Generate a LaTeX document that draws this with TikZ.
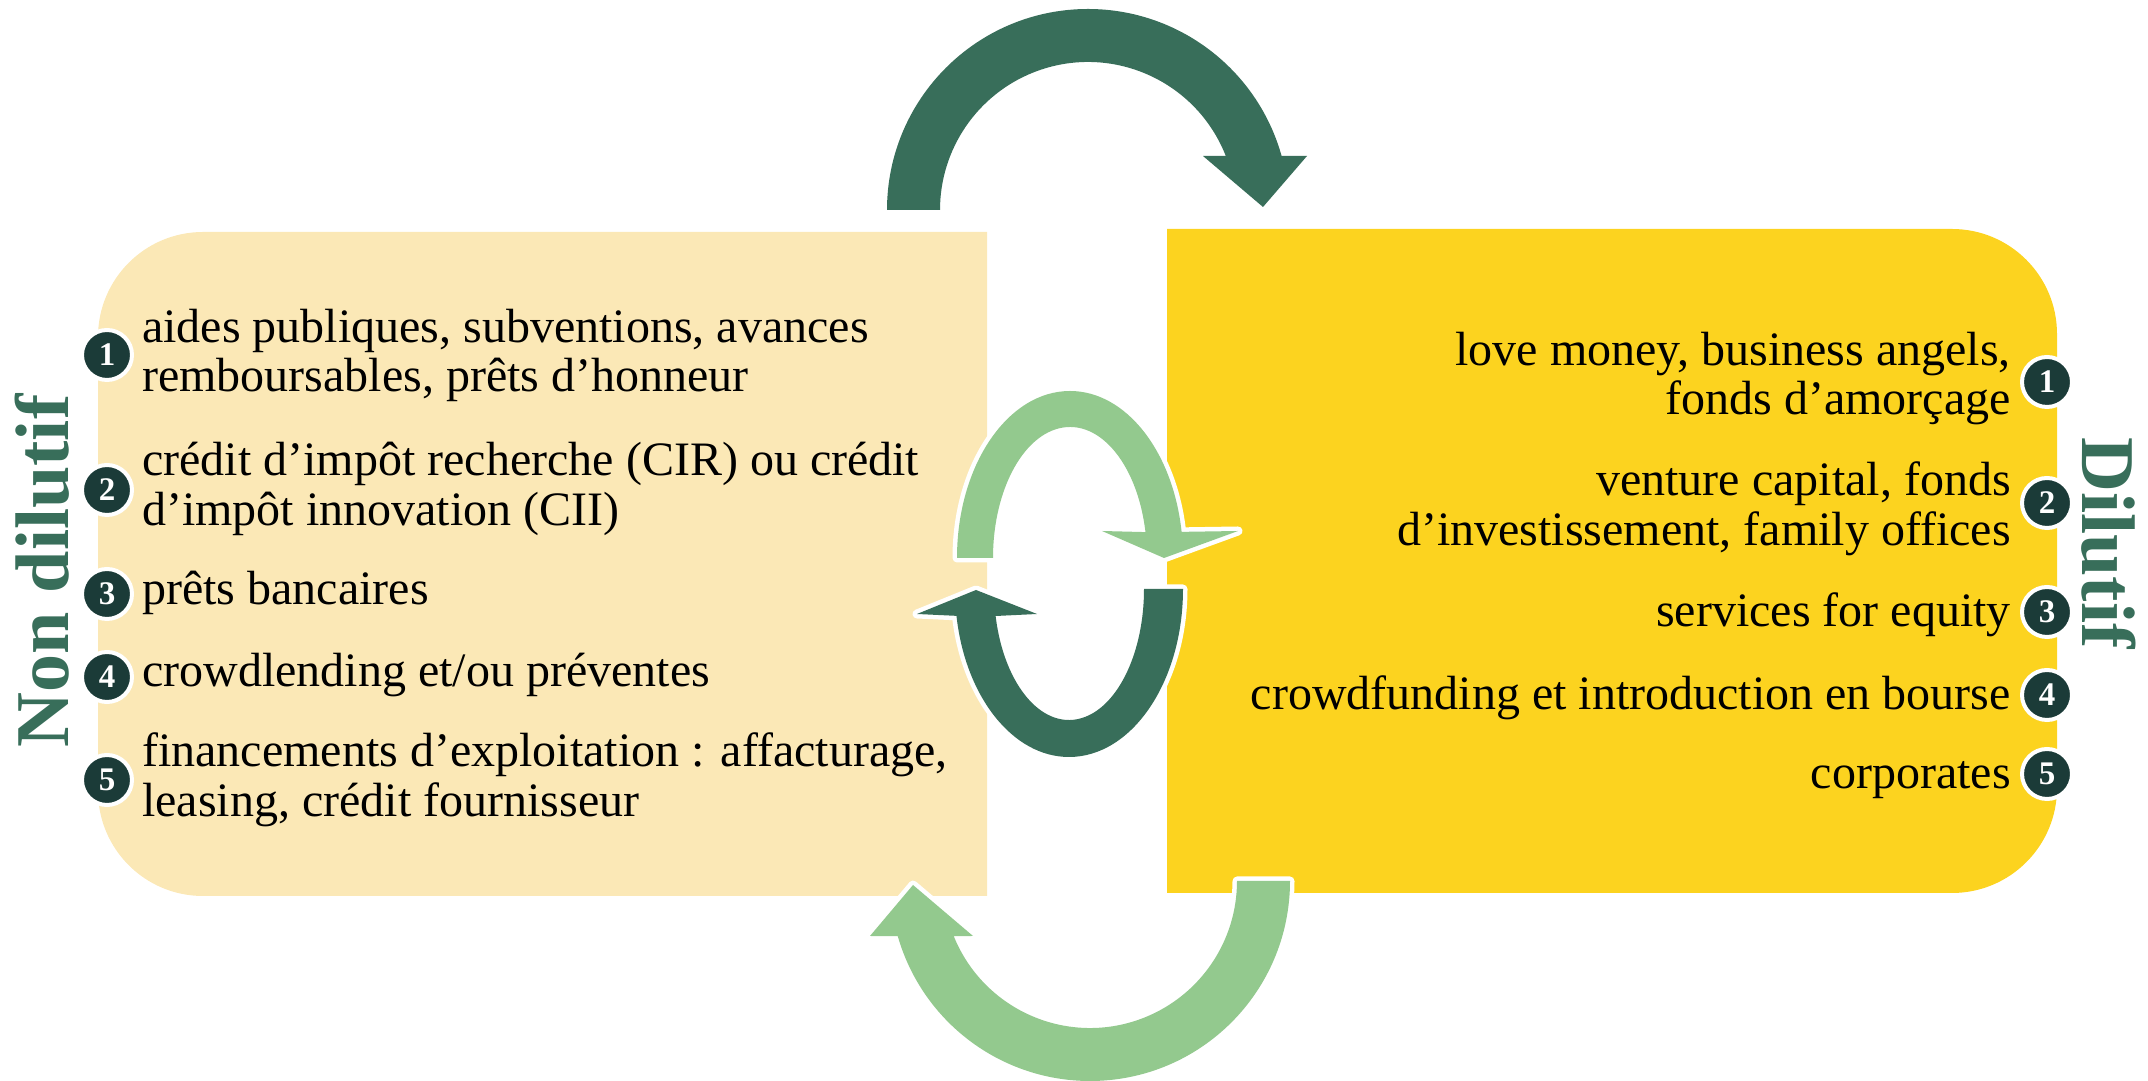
\documentclass[tikz,border=0pt]{standalone}
\usepackage{fontspec}
\setmainfont{Liberation Serif}
\definecolor{pinegreen}{RGB}{56,110,90}
\definecolor{sagegreen}{RGB}{147,201,142}
\definecolor{paleyellow}{RGB}{251,232,182}
\definecolor{goldyellow}{RGB}{252,211,31}
\definecolor{darkteal}{RGB}{27,59,56}

\begin{document}
\begin{tikzpicture}[x=1pt, y=1pt,
  numdot/.style={circle, fill=darkteal, draw=white, line width=4pt, minimum size=50pt, inner sep=0pt, text=white, font=\fontsize{33}{33}\selectfont\bfseries},
  entry/.style={inner sep=0pt, font=\fontsize{48}{49.5}\selectfont, execute at begin node=\strut, execute at end node=\strut},
  sidelabel/.style={text=pinegreen, inner sep=0pt, font=\fontsize{76}{76}\selectfont\bfseries},
  cyclearrow/.style={fill=#1, preaction={draw=white, line width=9pt, line join=round}}]
\useasboundingbox (0,0) rectangle (2148,1081);

%the two boxes
\fill [paleyellow] (987,185) -- (987,849) -- (203,849) arc [start angle=90, end angle=180, radius=105] -- (98,290) arc [start angle=180, end angle=270, radius=105] -- cycle;
\fill [goldyellow] (1167,188) -- (1167,852) -- (1952,852) arc [start angle=90, end angle=0, radius=105] -- (2057,293) arc [start angle=0, end angle=-90, radius=105] -- cycle;

%centres of the four arrows
\coordinate (topc) at (1088,871);
\coordinate (botc) at (1090,200);
\coordinate (upc) at (1070,523);
\coordinate (lowc) at (1069,492);

%the big arrows
\fill [cyclearrow=pinegreen] (887,871) arc [start angle=180, end angle=15.6, radius=201] -- (1307,925) -- (1263,874) -- (1203,925) -- ([shift={(topc)}]21.4:148) arc [start angle=21.4, end angle=180, radius=148] -- cycle;
\fill [cyclearrow=sagegreen] (1290,200) arc [start angle=0, end angle=-164, radius=200] -- (870,145) -- (913,196) -- (973,145) -- ([shift={(botc)}]-158:147) arc [start angle=-158, end angle=0, radius=147] -- cycle;

%the small arrows in the middle
\fill [cyclearrow=sagegreen] (957,523) arc [start angle=180, end angle=9, x radius=113, y radius=167] -- (1238,550) -- (1164,523) -- (1102,550) -- ([shift={(upc)}]11.4:77 and 131) arc [start angle=11.4, end angle=180, x radius=77, y radius=131] -- cycle;
\fill [cyclearrow=pinegreen] (1183,492) arc [start angle=0, end angle=-170.8, x radius=114, y radius=168] -- (917,467) -- (976,491) -- (1037,467) -- ([shift={(lowc)}]-168.1:75 and 131) arc [start angle=-168.1, end angle=0, x radius=75, y radius=131] -- cycle;

%left side
\node [sidelabel, rotate=90] (nondil) at (42,510) {Non dilutif};
\node [numdot] (l1) at (107,726) {1};
\node [numdot] (l2) at (107,591) {2};
\node [numdot] (l3) at (107,487) {3};
\node [numdot] (l4) at (107,404) {4};
\node [numdot] (l5) at (107,301) {5};
\node [entry, anchor=west, align=left] (lt1) at (142,723) {aides publiques, subventions, avances\\remboursables, prêts d’honneur};
\node [entry, anchor=west, align=left] (lt2) at (142,590) {crédit d’impôt recherche (CIR) ou crédit\\d’impôt innovation (CII)};
\node [entry, anchor=west, align=left] (lt3) at (142,486) {prêts bancaires};
\node [entry, anchor=west, align=left] (lt4) at (142,404) {crowdlending et/ou préventes};
\node [entry, anchor=west, align=left] (lt5) at (142,299) {financements d’exploitation : affacturage,\\leasing, crédit fournisseur};

%right side
\node [sidelabel, rotate=-90] (dil) at (2109,538) {Dilutif};
\node [numdot] (r1) at (2047,699) {1};
\node [numdot] (r2) at (2047,578) {2};
\node [numdot] (r3) at (2047,469) {3};
\node [numdot] (r4) at (2047,386) {4};
\node [numdot] (r5) at (2047,307) {5};
\node [entry, anchor=east, align=right] (rt1) at (2011,700) {love money, business angels,\\fonds d’amorçage};
\node [entry, anchor=east, align=right] (rt2) at (2011,570) {venture capital, fonds\\d’investissement, family offices};
\node [entry, anchor=east, align=right] (rt3) at (2011,464) {services for equity};
\node [entry, anchor=east, align=right] (rt4) at (2011,381) {crowdfunding et introduction en bourse};
\node [entry, anchor=east, align=right] (rt5) at (2011,302) {corporates};
\end{tikzpicture}
\end{document}
